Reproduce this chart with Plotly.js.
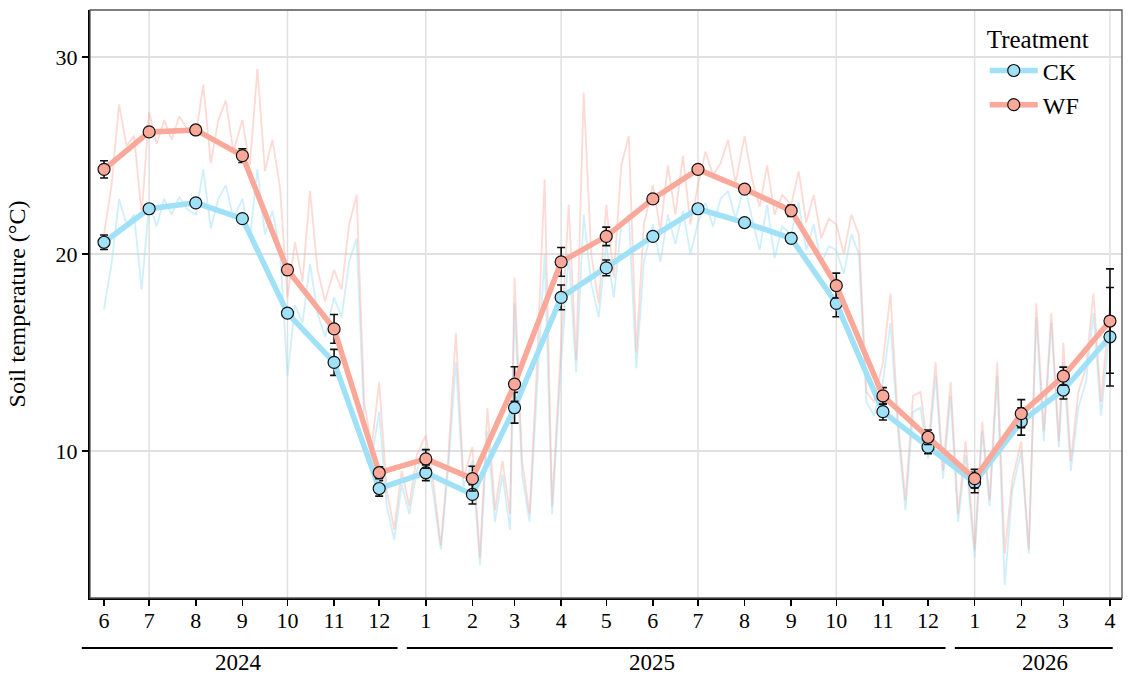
<!DOCTYPE html>
<html>
<head>
<meta charset="utf-8">
<script src="https://cdn.plot.ly/plotly-3.0.1.min.js"></script>
<style>
  html, body { margin: 0; padding: 0; background: #fff; }
  #chart { width: 1139px; height: 677px; }
</style>
</head>
<body>
<div id="chart"></div>
<script>
// monthly means (2024-06 .. 2026-04)
var monthNums = [6, 7, 8, 9, 10, 11, 12, 1, 2, 3, 4, 5, 6, 7, 8, 9, 10, 11, 12, 1, 2, 3, 4];
var years = ['2024', '2025', '2026'];

var ckMean = [20.6, 22.3, 22.6, 21.8, 17.0, 14.5, 8.1, 8.9, 7.8, 12.2, 17.8, 19.3,
              20.9, 22.3, 21.6, 20.8, 17.5, 12.0, 10.2, 8.4, 11.5, 13.1, 15.8];
var wfMean = [24.3, 26.2, 26.3, 25.0, 19.2, 16.2, 8.9, 9.6, 8.6, 13.4, 19.6, 20.9,
              22.8, 24.3, 23.3, 22.2, 18.4, 12.8, 10.7, 8.6, 11.9, 13.8, 16.6];
var ckSe = [0.37, 0.15, 0.12, 0.15, 0.2, 0.66, 0.39, 0.4, 0.49, 0.78, 0.63, 0.4,
            0.15, 0.12, 0.15, 0.25, 0.68, 0.42, 0.34, 0.52, 0.69, 0.46, 2.5];
var wfSe = [0.44, 0.15, 0.12, 0.35, 0.25, 0.73, 0.3, 0.47, 0.63, 0.88, 0.73, 0.47,
            0.15, 0.12, 0.15, 0.29, 0.63, 0.42, 0.37, 0.47, 0.71, 0.46, 2.65];

// daily readings, sampled every 5 days (days 1,6,11,16,21,26 of each month)
var dailyDays = [1, 6, 11, 16, 21, 26];
var ckDaily = [
  17.2, 19.5, 22.8, 21.5, 22.0, 18.2,   // 2024-06
  22.6, 21.4, 22.8, 22.0, 22.9, 22.3,
  22.0, 24.3, 21.3, 22.8, 23.5, 21.8,
  22.8, 20.8, 24.3, 21.0, 22.2, 20.2,
  13.8, 17.4, 16.5, 19.5, 17.0, 15.8,
  17.8, 16.8, 19.6, 20.8, 11.5, 9.6,
  12.0, 7.2, 5.5, 8.3, 6.8, 9.0,
  10.2, 7.8, 5.0, 9.2, 14.5, 8.2,       // 2025-01
  9.5, 4.2, 11.0, 6.4, 8.8, 6.0,
  17.5, 8.8, 6.4, 13.2, 20.0, 6.8,
  14.5, 20.0, 14.0, 22.0, 18.5, 16.8,
  20.5, 17.8, 21.5, 22.0, 14.2, 19.6,
  21.5, 19.6, 22.0, 20.5, 22.2, 20.0,
  21.6, 22.6, 21.4, 22.8, 23.2, 21.8,
  23.5, 21.8, 20.2, 22.5, 19.8, 21.4,
  21.0, 22.6, 20.2, 21.5, 19.5, 20.4,
  20.2, 19.0, 21.0, 20.0, 12.5, 11.8,
  13.5, 16.5, 11.0, 7.0, 12.0, 12.2,
  9.6, 13.8, 8.6, 12.8, 6.4, 9.8,
  4.6, 11.0, 7.2, 13.8, 3.2, 8.0,       // 2026-01
  10.0, 4.8, 16.8, 10.5, 16.5, 10.2,
  14.5, 9.0, 12.2, 13.5, 17.0, 11.8,
  16.3                                  // 2026-04-01
];
var wfDaily = [
  21.0, 23.5, 27.6, 25.5, 26.0, 22.0,   // 2024-06
  27.2, 25.6, 26.8, 25.8, 27.0, 26.4,
  26.0, 28.6, 24.6, 26.8, 27.8, 25.2,
  26.8, 24.5, 29.4, 24.2, 25.8, 23.4,
  17.8, 20.6, 18.6, 23.2, 19.2, 17.6,
  19.2, 18.2, 21.5, 23.0, 12.5, 10.2,
  13.5, 8.0, 6.0, 9.0, 7.2, 9.8,
  10.8, 8.4, 5.2, 9.8, 16.0, 8.6,       // 2025-01
  10.2, 4.6, 12.2, 7.0, 9.5, 6.8,
  18.8, 9.5, 6.8, 14.5, 23.8, 7.2,
  15.5, 22.5, 14.6, 28.2, 20.0, 17.5,
  22.5, 18.8, 24.5, 26.0, 15.0, 21.5,
  23.5, 21.2, 24.5, 22.0, 25.0, 21.5,
  23.5, 25.2, 24.0, 24.6, 25.8, 23.6,
  26.0, 23.8, 22.4, 24.5, 22.0, 23.0,
  22.5, 24.2, 21.6, 23.0, 20.8, 21.8,
  21.5, 20.0, 22.0, 21.0, 13.0, 12.5,
  14.5, 18.0, 11.5, 7.5, 12.8, 13.0,
  10.0, 14.5, 9.0, 13.5, 6.8, 10.5,
  5.0, 11.5, 7.5, 14.5, 4.8, 8.5,       // 2026-01
  10.5, 5.0, 17.5, 11.0, 17.0, 10.5,
  15.5, 9.5, 13.0, 14.2, 18.0, 12.5,
  17.5                                  // 2026-04-01
];

function pad(n) { return (n < 10 ? '0' : '') + n; }

// month-start dates for the monthly points
var monthDates = [];
var y = 2024, m = 6;
for (var i = 0; i < monthNums.length; i++) {
  monthDates.push(y + '-' + pad(m) + '-01');
  m++;
  if (m > 12) { m = 1; y++; }
}

// dates for the daily samples
var dailyDates = [];
for (var i = 0; i < monthDates.length - 1; i++) {
  var ym = monthDates[i].slice(0, 8);
  for (var d = 0; d < dailyDays.length; d++) {
    dailyDates.push(ym + pad(dailyDays[d]));
  }
}
dailyDates.push(monthDates[monthDates.length - 1]);

var ckColor = 'rgb(160,225,247)';
var wfColor = 'rgb(250,168,153)';
var serif = 'Liberation Serif, Times New Roman, serif';

var traces = [
  {
    x: dailyDates, y: ckDaily, type: 'scatter', mode: 'lines',
    line: {color: 'rgba(160,225,247,0.5)', width: 1.8},
    showlegend: false, hoverinfo: 'skip'
  },
  {
    x: dailyDates, y: wfDaily, type: 'scatter', mode: 'lines',
    line: {color: 'rgba(250,168,153,0.42)', width: 1.8},
    showlegend: false, hoverinfo: 'skip'
  },
  {
    x: monthDates, y: ckMean, type: 'scatter', mode: 'lines+markers',
    name: 'CK',
    line: {color: ckColor, width: 5.5},
    marker: {color: ckColor, size: 12, line: {color: '#111', width: 1.2}},
    error_y: {type: 'data', array: ckSe, visible: true, color: '#111', thickness: 1.6, width: 4}
  },
  {
    x: monthDates, y: wfMean, type: 'scatter', mode: 'lines+markers',
    name: 'WF',
    line: {color: wfColor, width: 5.5},
    marker: {color: wfColor, size: 12, line: {color: '#111', width: 1.2}},
    error_y: {type: 'data', array: wfSe, visible: true, color: '#111', thickness: 1.6, width: 4}
  }
];

// vertical grid every three months
var gridDates = ['2024-07-01', '2024-10-01', '2025-01-01', '2025-04-01',
                 '2025-07-01', '2025-10-01', '2026-01-01', '2026-04-01'];
var shapes = gridDates.map(function(g) {
  return {type: 'line', xref: 'x', yref: 'paper', x0: g, x1: g, y0: 0, y1: 1,
          layer: 'below', line: {color: '#e0e0e0', width: 1.5}};
});

// panel border (top/right)
shapes.push({type: 'rect', xref: 'paper', yref: 'paper', x0: 0, x1: 1, y0: 0, y1: 1,
             line: {color: '#555', width: 1.3}, layer: 'above'});

// year bracket lines under the month labels
var yearSpans = [[-0.008, 0.298], [0.307, 0.829], [0.838, 0.991]];
var yearCenters = [0.144, 0.545, 0.925];
yearSpans.forEach(function(s) {
  shapes.push({type: 'line', xref: 'paper', yref: 'paper', x0: s[0], x1: s[1],
               y0: -0.085, y1: -0.085, line: {color: '#000', width: 2}});
});
var annotations = years.map(function(yr, i) {
  return {text: yr, xref: 'paper', yref: 'paper', x: yearCenters[i], y: -0.11,
          xanchor: 'center', yanchor: 'middle', showarrow: false,
          font: {family: serif, size: 23, color: '#000'}};
});

var layout = {
  width: 1139, height: 677,
  margin: {l: 90, r: 17, t: 10, b: 79},
  paper_bgcolor: '#fff', plot_bgcolor: '#fff',
  font: {family: serif, color: '#000'},
  xaxis: {
    type: 'date',
    range: ['2024-05-22 16:00', '2026-04-09'],
    tickvals: monthDates, ticktext: monthNums.map(String),
    tickfont: {family: serif, size: 22, color: '#000'},
    ticks: 'outside', ticklen: 6, tickwidth: 1.5, tickcolor: '#000',
    ticklabelstandoff: -4,
    showgrid: false, zeroline: false,
    showline: true, linecolor: '#000', linewidth: 2
  },
  yaxis: {
    range: [2.54, 32.39],
    tickvals: [10, 20, 30],
    tickfont: {family: serif, size: 22, color: '#000'},
    ticks: 'outside', ticklen: 6, tickwidth: 1.5, tickcolor: '#000',
    showgrid: true, gridcolor: '#e0e0e0', gridwidth: 1.5,
    zeroline: false, showline: true, linecolor: '#000', linewidth: 2,
    title: {text: 'Soil temperature (°C)', font: {family: serif, size: 24, color: '#000'}, standoff: 23}
  },
  legend: {
    x: 0.867, y: 0.99, xanchor: 'left', yanchor: 'top',
    bgcolor: 'rgba(0,0,0,0)',
    title: {text: 'Treatment', font: {family: serif, size: 25, color: '#000'}, side: 'top'},
    font: {family: serif, size: 24, color: '#000'},
    itemwidth: 48,
    tracegroupgap: 0
  },
  shapes: shapes,
  annotations: annotations,
  hovermode: false
};

Plotly.newPlot('chart', traces, layout, {displayModeBar: false, staticPlot: true});
</script>
</body>
</html>
